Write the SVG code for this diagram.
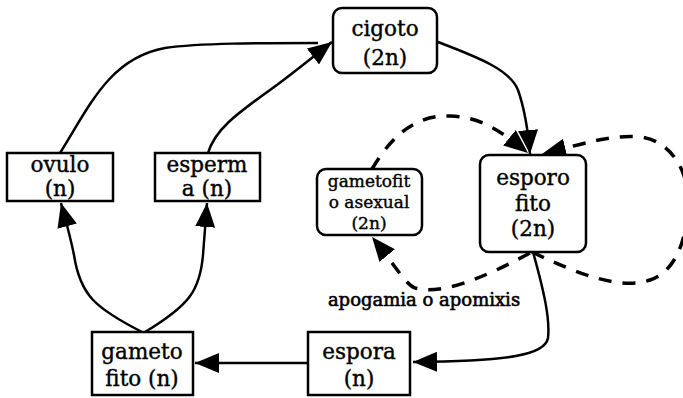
<svg xmlns="http://www.w3.org/2000/svg" width="683" height="398" viewBox="0 0 683 398">
<style>
.box{fill:#fff;stroke:#000;stroke-width:2.5}
.t{font-family:"DejaVu Serif","Liberation Serif",serif;font-size:21.5px;fill:#000;stroke:#000;stroke-width:0.4;text-anchor:middle}
.s{font-size:17px}
.solid{fill:none;stroke:#000;stroke-width:2.5}
.dash{fill:none;stroke:#000;stroke-width:3.5;stroke-dasharray:13 11}
</style>
<defs>
<marker id="ah" markerUnits="userSpaceOnUse" markerWidth="24" markerHeight="20" refX="24" refY="10" orient="auto">
<path d="M0,0 L24,10 L0,20 z" fill="#000"/>
</marker>
</defs>
<rect width="683" height="398" fill="#fff"/>
<g id="connectors">
<path class="solid" d="M60,153 C90,105 110,58 165,48 C200,43 260,43 318,43"/>
<path class="solid" d="M208,153 C215,130 235,115 270,90 C295,72 315,55 332,42" marker-end="url(#ah)"/>
<path class="solid" d="M142,332 C95,308 80,295 74,255 C70,235 65,218 61,203" marker-end="url(#ah)"/>
<path class="solid" d="M145,332 C190,305 200,290 203,255 L207,203" marker-end="url(#ah)"/>
<path class="solid" d="M307,363 L195,363" marker-end="url(#ah)"/>
<path class="solid" d="M533,252 C545,295 550,320 548,338 C545,355 510,361 413,362" marker-end="url(#ah)"/>
<path class="solid" d="M438,42 C480,58 510,70 518,90 C525,110 528,130 530,154" marker-end="url(#ah)"/>
<path class="dash" d="M372,169 C395,130 420,115 450,116 C480,117 500,130 528,153" marker-end="url(#ah)"/>
<path class="dash" d="M532,252 C580,275 620,290 650,280 C680,270 688,230 688,200 C688,170 670,140 640,137 C610,134 580,145 542,154" marker-end="url(#ah)"/>
<path class="dash" d="M530,253 C480,280 440,295 415,288 C405,284 395,265 372,237" marker-end="url(#ah)"/>
</g>
<g id="cigoto">
<rect class="box" x="333" y="8" width="104" height="65" rx="9"/>
<text class="t" x="385" y="36">cigoto</text>
<text class="t" x="385" y="65">(2n)</text>
</g>
<g id="esporofito">
<rect class="box" x="480" y="155" width="106" height="97" rx="9"/>
<text class="t" x="533" y="185">esporo</text>
<text class="t" x="533" y="211">fito</text>
<text class="t" x="533" y="236">(2n)</text>
</g>
<g id="gametofito-asexual">
<rect class="box" x="317" y="169" width="105" height="66" rx="9"/>
<text class="t s" x="369" y="187">gametofit</text>
<text class="t s" x="369" y="208">o asexual</text>
<text class="t s" x="369" y="229">(2n)</text>
</g>
<g id="ovulo">
<rect class="box" x="7" y="153" width="106" height="48"/>
<text class="t" x="60" y="172">ovulo</text>
<text class="t" x="60" y="196">(n)</text>
</g>
<g id="esperma">
<rect class="box" x="155" y="153" width="105" height="48"/>
<text class="t" x="207" y="172">esperm</text>
<text class="t" x="207" y="196">a (n)</text>
</g>
<g id="gametofito">
<rect class="box" x="92" y="332" width="101" height="63"/>
<text class="t" x="142" y="359">gameto</text>
<text class="t" x="142" y="386">fito (n)</text>
</g>
<g id="espora">
<rect class="box" x="308" y="332" width="102" height="63"/>
<text class="t" x="359" y="359">espora</text>
<text class="t" x="359" y="386">(n)</text>
</g>
<g id="label">
<text class="t" x="424" y="306" style="font-size:18px;stroke-width:0.6">apogamia o apomixis</text>
</g>
</svg>
